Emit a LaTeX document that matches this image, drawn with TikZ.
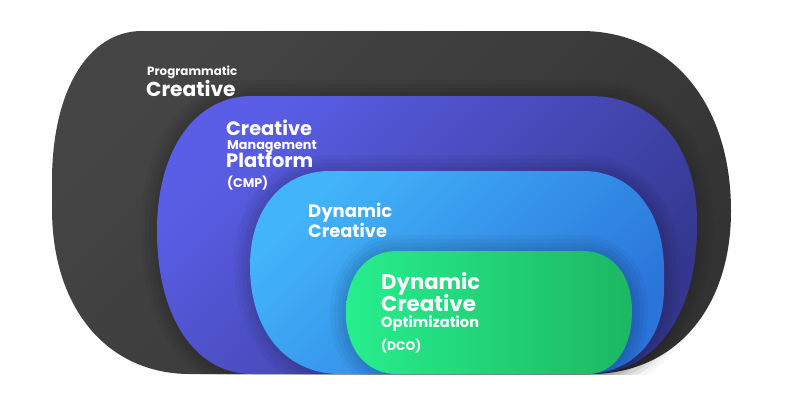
\documentclass[tikz,border=0pt]{standalone}
\usepackage{fontspec}
\setmainfont{Poppins}
\usepackage{tikz}

\definecolor{pcLight}{HTML}{454545}
\definecolor{pcMid}{HTML}{383838}
\definecolor{pcDark}{HTML}{333333}
\definecolor{cmpLight}{HTML}{5A5EE6}
\definecolor{cmpMid}{HTML}{3A3D9C}
\definecolor{cmpDark}{HTML}{34378D}
\definecolor{dcLight}{HTML}{42B4FA}
\definecolor{dcMid}{HTML}{2D80E0}
\definecolor{dcDark}{HTML}{2A74DA}
\definecolor{dcoLight}{HTML}{27EE8E}
\definecolor{dcoMid}{HTML}{21CE76}
\definecolor{dcoDark}{HTML}{1DB762}

\begin{document}
\begin{tikzpicture}[x=1pt, y=-1pt,
  halo/.style={preaction={draw=black, draw opacity=0.035, line width=32pt},
               preaction={draw=black, draw opacity=0.035, line width=24pt},
               preaction={draw=black, draw opacity=0.04, line width=16pt},
               preaction={draw=black, draw opacity=0.04, line width=8pt}},
  ringtext/.style={text=white, inner sep=0pt, anchor=base west,
                   font=\bfseries\fontsize{#1}{#1}\selectfont}]
\useasboundingbox (0,0) rectangle (800,400);

\begin{scope}
\clip (0,0) rectangle (800,374);
% Programmatic Creative (outer ring)
\path[top color=pcLight, middle color=pcMid, bottom color=pcDark, shading angle=45]
  (52,181) .. controls (52,91) and (88,31) .. (142,31)
  -- (581,31) .. controls (671,31) and (731,103) .. (731,211)
  .. controls (731,308.8) and (674.6,374) .. (590,374)
  -- (190,374) .. controls (107.2,374) and (52,308) .. (52,209) -- cycle;
% Creative Management Platform
\path[halo, top color=cmpLight, middle color=cmpMid, bottom color=cmpDark, shading angle=45]
  (157,231) .. controls (157,150) and (195,96) .. (252,96)
  -- (590,96) .. controls (654.2,96) and (697,146) .. (697,221)
  -- (697,227) .. controls (697,315.2) and (654.2,374) .. (590,374)
  -- (252,374) .. controls (195,374) and (157,316.8) .. (157,231) -- cycle;
% Dynamic Creative
\path[halo, top color=dcLight, middle color=dcMid, bottom color=dcDark, shading angle=45]
  (250,266) .. controls (250,209) and (282,171) .. (330,171)
  -- (583,171) .. controls (631.6,171) and (664,210.6) .. (664,270)
  -- (664,289) .. controls (664,340) and (632,374) .. (584,374)
  -- (340,374) .. controls (286,374) and (250,330.8) .. (250,266) -- cycle;
% Dynamic Creative Optimization
\path[halo, left color=dcoLight, middle color=dcoMid, right color=dcoDark]
  (346,313) .. controls (346,275.8) and (366.4,251) .. (397,251)
  -- (583,251) .. controls (612.4,251) and (632,275) .. (632,311)
  .. controls (632,348.8) and (614,374) .. (587,374)
  -- (397,374) .. controls (366.4,374) and (346,349.6) .. (346,313) -- cycle;
\end{scope}

% labels
\node[ringtext=11.9] (progA) at (147,75) {Programmatic};
\node[ringtext=20.2] (progB) at (146,96) {Creative};
\node[ringtext=19.4] (cmpA) at (226,135) {Creative};
\node[ringtext=12.8] (cmpB) at (227,149) {Management};
\node[ringtext=19.4] (cmpC) at (226,167) {Platform};
\node[ringtext=12.6] (cmpD) at (227,187) {(CMP)};
\node[ringtext=18] (dcA) at (308,217) {Dynamic};
\node[ringtext=17.8] (dcB) at (308,237) {Creative};
\node[ringtext=21.2] (dcoA) at (381,289) {Dynamic};
\node[ringtext=21.4] (dcoB) at (381,311) {Creative};
\node[ringtext=14.6] (dcoC) at (381,327) {Optimization};
\node[ringtext=12.4] (dcoD) at (381,350) {(DCO)};
\end{tikzpicture}
\end{document}
